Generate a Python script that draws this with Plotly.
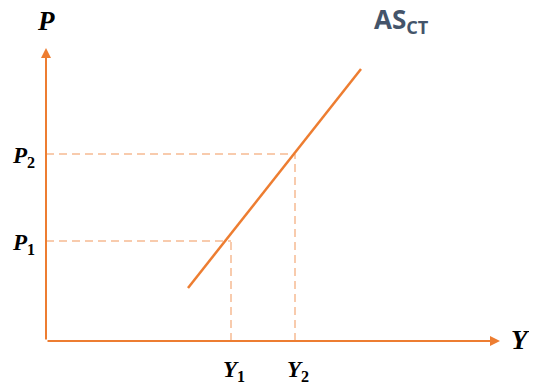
import plotly.graph_objects as go

# posição dos pontos (unidades do gráfico, origem no cruzamento dos eixos)
as_x = [142, 315]
as_y = [53, 272]
y_vals = [185, 249]      # Y1, Y2
p_vals = [100, 187]      # P1, P2
y_labels = ['Y', 'Y']
y_subs = ['1', '2']
p_labels = ['P', 'P']
p_subs = ['1', '2']
x_max = 454
y_max = 293

laranja = '#ED7D31'
tracejado = '#F8CBAD'
serif = 'Liberation Serif'

fig = go.Figure()

# linhas tracejadas de referência
for xv, pv in zip(y_vals, p_vals):
    fig.add_trace(go.Scatter(x=[0, xv], y=[pv, pv], mode='lines',
                             line=dict(color=tracejado, width=2, dash='8px,5px'),
                             hoverinfo='skip'))
    fig.add_trace(go.Scatter(x=[xv, xv], y=[0, pv], mode='lines',
                             line=dict(color=tracejado, width=2, dash='8px,5px'),
                             hoverinfo='skip'))

# curva AS de curto prazo
fig.add_trace(go.Scatter(x=as_x, y=as_y, mode='lines',
                         line=dict(color=laranja, width=2.5), hoverinfo='skip'))

# eixos com setas
fig.add_annotation(x=x_max, y=0, ax=0, ay=0, xref='x', yref='y', axref='x', ayref='y',
                   text='', showarrow=True, arrowhead=2, arrowsize=1, arrowwidth=2,
                   arrowcolor=laranja)
fig.add_annotation(x=0, y=y_max, ax=0, ay=0, xref='x', yref='y', axref='x', ayref='y',
                   text='', showarrow=True, arrowhead=2, arrowsize=1, arrowwidth=2,
                   arrowcolor=laranja)

rotulo = dict(family=serif, size=23, color='black')
fig.add_annotation(x=0, y=y_max + 27, text='<b><i>P</i></b>', showarrow=False,
                   font=dict(family=serif, size=27, color='black'))
fig.add_annotation(x=x_max + 20, y=1, text='<b><i>Y</i></b>', showarrow=False,
                   font=dict(family=serif, size=27, color='black'))
for pv, lab, sb in zip(p_vals, p_labels, p_subs):
    fig.add_annotation(x=-23, y=pv - 3, text='<b><i>' + lab + '</i><sub>' + sb + '</sub></b>',
                       showarrow=False, font=rotulo)
for xv, lab, sb in zip(y_vals, y_labels, y_subs):
    fig.add_annotation(x=xv + 3, y=-30, text='<b><i>' + lab + '</i><sub>' + sb + '</sub></b>',
                       showarrow=False, font=rotulo)

fig.add_annotation(x=355, y=y_max + 28, text='<b>AS<sub>CT</sub></b>', showarrow=False,
                   font=dict(family='Open Sans', size=26, color='#44546A'))

# a página tem margem de 8px, por isso a figura é deslocada 8px
fig.update_layout(
    width=529, height=377,
    margin=dict(l=0, r=0, t=0, b=0, autoexpand=False),
    showlegend=False,
    plot_bgcolor='white', paper_bgcolor='white',
    xaxis=dict(range=[-38, 491], visible=False, fixedrange=True),
    yaxis=dict(range=[-44, 333], visible=False, fixedrange=True),
)

fig.write_html('out.html')
